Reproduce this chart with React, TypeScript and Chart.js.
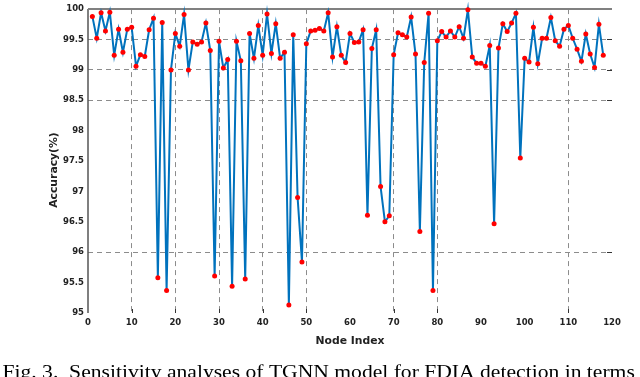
import React, { useEffect, useRef } from "react";
import { Chart, registerables } from "chart.js";

Chart.register(...registerables);

const nodeIndex = [
  1, 2, 3, 4, 5, 6, 7, 8, 9, 10, 11, 12, 13, 14, 15, 16, 17, 18, 19, 20,
  21, 22, 23, 24, 25, 26, 27, 28, 29, 30, 31, 32, 33, 34, 35, 36, 37, 38, 39, 40,
  41, 42, 43, 44, 45, 46, 47, 48, 49, 50, 51, 52, 53, 54, 55, 56, 57, 58, 59, 60,
  61, 62, 63, 64, 65, 66, 67, 68, 69, 70, 71, 72, 73, 74, 75, 76, 77, 78, 79, 80,
  81, 82, 83, 84, 85, 86, 87, 88, 89, 90, 91, 92, 93, 94, 95, 96, 97, 98, 99, 100,
  101, 102, 103, 104, 105, 106, 107, 108, 109, 110, 111, 112, 113, 114, 115, 116, 117, 118,
];

const accuracy = [
  99.88, 99.52, 99.94, 99.64, 99.95, 99.24, 99.67, 99.29, 99.67, 99.7,
  99.06, 99.25, 99.22, 99.66, 99.85, 95.58, 99.78, 95.37, 99.0, 99.6,
  99.39, 99.91, 99.0, 99.46, 99.42, 99.46, 99.77, 99.32, 95.61, 99.47,
  99.03, 99.17, 95.44, 99.47, 99.15, 95.56, 99.6, 99.19, 99.73, 99.24,
  99.92, 99.27, 99.76, 99.19, 99.29, 95.13, 99.58, 96.9, 95.84, 99.43,
  99.64, 99.65, 99.68, 99.64, 99.94, 99.21, 99.71, 99.24, 99.12, 99.6,
  99.45, 99.46, 99.66, 96.61, 99.35, 99.66, 97.08, 96.5, 96.6, 99.25,
  99.61, 99.58, 99.54, 99.87, 99.26, 96.34, 99.12, 99.93, 95.37, 99.48,
  99.63, 99.54, 99.64, 99.54, 99.71, 99.52, 99.99, 99.21, 99.11, 99.11,
  99.06, 99.4, 96.47, 99.36, 99.76, 99.63, 99.77, 99.93, 97.55, 99.19,
  99.13, 99.7, 99.1, 99.52, 99.52, 99.86, 99.48, 99.39, 99.67, 99.73,
  99.52, 99.34, 99.14, 99.59, 99.26, 99.04, 99.75, 99.24,
];

const xTicks = [0, 10, 20, 30, 40, 50, 60, 70, 80, 90, 100, 110, 120];
const yTicks = [95, 95.5, 96, 96.5, 97, 97.5, 98, 98.5, 99, 99.5, 100];
const xGridShown = [10, 20, 30, 40, 50, 70, 80, 110];
const yGridShown = [96, 98.5, 99, 99.5];

const xTitle = "Node Index";
const yTitle = "Accuracy(%)";
const caption = "Fig. 3.  Sensitivity analyses of TGNN model for FDIA detection in terms";

const W = 640;
const H = 377;

const framePlugin = {
  id: "matlabFrame",
  beforeDatasetsDraw(chart: any) {
    const { ctx, chartArea } = chart;
    const xs = chart.scales.x;
    const ys = chart.scales.y;
    ctx.save();
    // left axis
    ctx.strokeStyle = "#555555";
    ctx.lineWidth = 1.5;
    ctx.beginPath();
    ctx.moveTo(chartArea.left, chartArea.top);
    ctx.lineTo(chartArea.left, chartArea.bottom);
    ctx.stroke();
    // top box line
    ctx.strokeStyle = "#808080";
    ctx.lineWidth = 2;
    ctx.beginPath();
    ctx.moveTo(chartArea.left, chartArea.top);
    ctx.lineTo(chartArea.right, chartArea.top);
    ctx.stroke();
    // inward ticks
    ctx.strokeStyle = "#333333";
    ctx.lineWidth = 1;
    xGridShown.forEach((v) => {
      const px = Math.round(xs.getPixelForValue(v)) + 0.5;
      ctx.beginPath();
      ctx.moveTo(px, chartArea.bottom);
      ctx.lineTo(px, chartArea.bottom - 4);
      ctx.stroke();
    });
    yGridShown.forEach((v) => {
      const py = Math.round(ys.getPixelForValue(v)) + 0.5;
      ctx.beginPath();
      ctx.moveTo(chartArea.right, py);
      ctx.lineTo(chartArea.right - 5, py);
      ctx.stroke();
    });
    ctx.restore();
  },
  afterDraw(chart: any) {
    const { ctx, chartArea } = chart;
    ctx.save();
    ctx.fillStyle = "#222222";
    ctx.font = 'bold 10.8px "DejaVu Sans"';
    ctx.textAlign = "center";
    ctx.textBaseline = "middle";
    ctx.fillText(xTitle, (chartArea.left + chartArea.right) / 2, 341);
    ctx.save();
    ctx.translate(54, 170);
    ctx.rotate(-Math.PI / 2);
    ctx.fillText(yTitle, 0, 0);
    ctx.restore();
    // caption
    ctx.fillStyle = "#000000";
    ctx.font = '18px "Liberation Serif"';
    ctx.textAlign = "left";
    ctx.textBaseline = "alphabetic";
    ctx.translate(2.5, 377.5);
    ctx.scale(1.2, 1);
    ctx.fillText(caption, 0, 0);
    ctx.restore();
  },
};

export default function App() {
  const canvasRef = useRef<HTMLCanvasElement | null>(null);

  useEffect(() => {
    document.body.style.margin = "0";
    const canvas = canvasRef.current;
    if (!canvas) return;
    const chart = new Chart(canvas, {
      type: "line",
      data: {
        datasets: [
          {
            data: nodeIndex.map((n, i) => ({ x: n, y: accuracy[i] })),
            borderColor: "#0072BD",
            borderWidth: 2,
            tension: 0,
            pointRadius: 2.5,
            pointBackgroundColor: "#FF0000",
            pointBorderColor: "#FF0000",
            pointBorderWidth: 0,
            clip: false as any,
          },
        ],
      },
      options: {
        responsive: false,
        animation: false,
        devicePixelRatio: 1,
        layout: { padding: { left: 0, top: 8, right: 28, bottom: 0 } },
        plugins: {
          legend: { display: false },
          tooltip: { enabled: false },
          title: { display: false },
        },
        scales: {
          x: {
            type: "linear",
            min: 0,
            max: 120,
            afterBuildTicks: (s: any) => {
              s.ticks = xTicks.map((v) => ({ value: v }));
            },
            afterFit: (s: any) => {
              s.height = 64;
            },
            ticks: {
              autoSkip: false,
              maxRotation: 0,
              padding: 5,
              color: "#222222",
              font: { family: "DejaVu Sans", weight: "bold", size: 8.5 },
              callback: (v: any) => String(v),
            },
            grid: {
              drawTicks: false,
              lineWidth: 1,
              color: (c: any) =>
                c.tick && xGridShown.includes(c.tick.value) ? "#8c8c8c" : "rgba(0,0,0,0)",
            },
            border: { display: false, dash: [5, 4] },
          },
          y: {
            type: "linear",
            min: 95,
            max: 100,
            afterBuildTicks: (s: any) => {
              s.ticks = yTicks.map((v) => ({ value: v }));
            },
            afterFit: (s: any) => {
              s.width = 88;
            },
            ticks: {
              autoSkip: false,
              padding: 4,
              color: "#222222",
              font: { family: "DejaVu Sans", weight: "bold", size: 8.5 },
              callback: (v: any) => String(v),
            },
            grid: {
              drawTicks: false,
              lineWidth: 1,
              color: (c: any) =>
                c.tick && yGridShown.includes(c.tick.value) ? "#8c8c8c" : "rgba(0,0,0,0)",
            },
            border: { display: false, dash: [5, 4] },
          },
        },
      },
      plugins: [framePlugin],
    });
    return () => chart.destroy();
  }, []);

  return (
    <div style={{ width: W, height: H, overflow: "hidden", background: "#ffffff" }}>
      <canvas ref={canvasRef} width={W} height={H} style={{ display: "block", width: W, height: H }} />
    </div>
  );
}
